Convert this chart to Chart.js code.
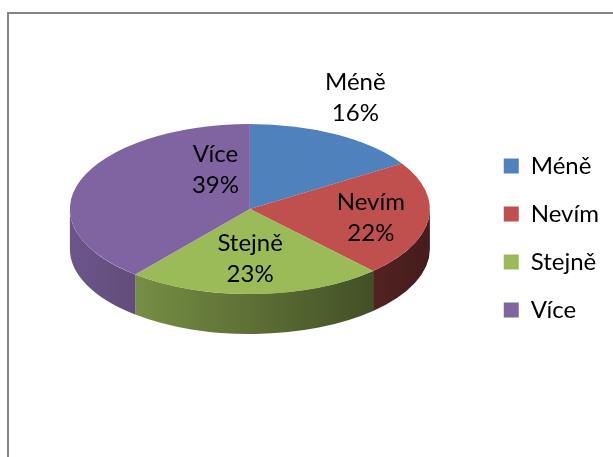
<!DOCTYPE html>
<html lang="cs">
<head>
<meta charset="utf-8">
<title>Méně / Nevím / Stejně / Více</title>
<script src="https://cdn.jsdelivr.net/npm/chart.js@4.4.0/dist/chart.umd.min.js"></script>
<style>
    html, body { margin: 0; padding: 0; background: #fff; }
    #wrap { position: relative; width: 613px; height: 457px; overflow: hidden; }
    #frame {
        position: absolute; left: 7px; top: 12px; right: -10px; bottom: -10px;
        border-left: 2px solid #858585; border-top: 2px solid #858585;
        pointer-events: none;
    }
    canvas { position: absolute; left: 0; top: 0; }
</style>
</head>
<body>
<div id="wrap">
    <canvas id="chart" width="613" height="457"></canvas>
    <div id="frame"></div>
</div>
<script>
    // =============================================
    // Data
    // =============================================
    const categories = ['Méně', 'Nevím', 'Stejně', 'Více'];
    const shares = [16, 22, 23, 39];
    const colors = ['#4F81BD', '#C0504D', '#9BBB59', '#8064A2'];

    const FONT = 'Lato, "Open Sans", sans-serif';

    // darken a hex colour by factor f
    function shade(hex, f) {
        const n = parseInt(hex.slice(1), 16);
        const r = Math.round(((n >> 16) & 255) * f);
        const g = Math.round(((n >> 8) & 255) * f);
        const b = Math.round((n & 255) * f);
        return 'rgb(' + r + ',' + g + ',' + b + ')';
    }

    // =============================================
    // 3D pie look: squash the flat pie and add a side wall
    // =============================================
    const pie3d = {
        id: 'pie3d',
        beforeDatasetsDraw(chart, args, opts) {
            const ctx = chart.ctx;
            const arcs = chart.getDatasetMeta(0).data;
            const cx = arcs[0].x, cy = arcs[0].y, r = arcs[0].outerRadius;
            const ry = r * opts.tilt, top = cy + opts.lift;

            // side wall, only the front half is visible
            arcs.forEach((arc, i) => {
                const s = Math.max(arc.startAngle, 0);
                const e = Math.min(arc.endAngle, Math.PI);
                if (e <= s) return;
                const g = ctx.createLinearGradient(cx - r, 0, cx + r, 0);
                g.addColorStop(0, shade(colors[i], opts.lightSide));
                g.addColorStop(1, shade(colors[i], opts.darkSide));
                ctx.beginPath();
                ctx.ellipse(cx, top, r, ry, 0, s, e);
                ctx.ellipse(cx, top + opts.depth, r, ry, 0, e, s, true);
                ctx.closePath();
                ctx.fillStyle = g;
                ctx.fill();
            });

            ctx.save();
            ctx.translate(cx, top);
            ctx.scale(1, opts.tilt);
            ctx.translate(-cx, -cy);
        },
        afterDatasetsDraw(chart) {
            chart.ctx.restore();
        },
        afterDraw(chart, args, opts) {
            const ctx = chart.ctx;
            const arcs = chart.getDatasetMeta(0).data;
            const values = chart.data.datasets[0].data;
            const total = values.reduce((a, b) => a + b, 0);
            const cx = arcs[0].x, cy = arcs[0].y, r = arcs[0].outerRadius;
            const ry = r * opts.tilt, top = cy + opts.lift;
            const lh = opts.lineHeight;

            ctx.save();
            ctx.font = opts.fontSize + 'px ' + FONT;
            ctx.fillStyle = '#000';
            ctx.textAlign = 'center';
            ctx.textBaseline = 'middle';
            arcs.forEach((arc, i) => {
                const p = opts.labelPos[i];
                const a = arc.startAngle + p.f * (arc.endAngle - arc.startAngle);
                const x = cx + r * p.k * Math.cos(a);
                const y = top + ry * p.k * Math.sin(a);
                const pct = Math.round(values[i] / total * 100) + '%';
                ctx.fillText(chart.data.labels[i], x, y - lh / 2);
                ctx.fillText(pct, x, y + lh / 2);
            });
            ctx.restore();
        }
    };

    // =============================================
    // Chart
    // =============================================
    new Chart(document.getElementById('chart').getContext('2d'), {
        type: 'pie',
        data: {
            labels: categories,
            datasets: [{
                data: shares,
                backgroundColor: colors,
                borderWidth: 0,
                clip: false
            }]
        },
        options: {
            responsive: false,
            animation: false,
            radius: 180,
            layout: { padding: { left: 20, top: 19, right: 4, bottom: 0 } },
            plugins: {
                tooltip: { enabled: false },
                legend: {
                    position: 'right',
                    align: 'center',
                    labels: {
                        boxWidth: 15,
                        boxHeight: 15,
                        padding: 24,
                        color: '#000',
                        font: { family: FONT, size: 24 }
                    }
                },
                pie3d: {
                    tilt: 0.472,
                    lift: -29,
                    depth: 40,
                    lightSide: 0.85,
                    darkSide: 0.35,
                    fontSize: 24,
                    lineHeight: 31,
                    labelPos: [
                        { f: 0.42, k: 1.43 },
                        { f: 0.52, k: 0.68 },
                        { f: 0.52, k: 0.58 },
                        { f: 0.84, k: 0.50 }
                    ]
                }
            }
        },
        plugins: [pie3d]
    });
</script>
</body>
</html>
